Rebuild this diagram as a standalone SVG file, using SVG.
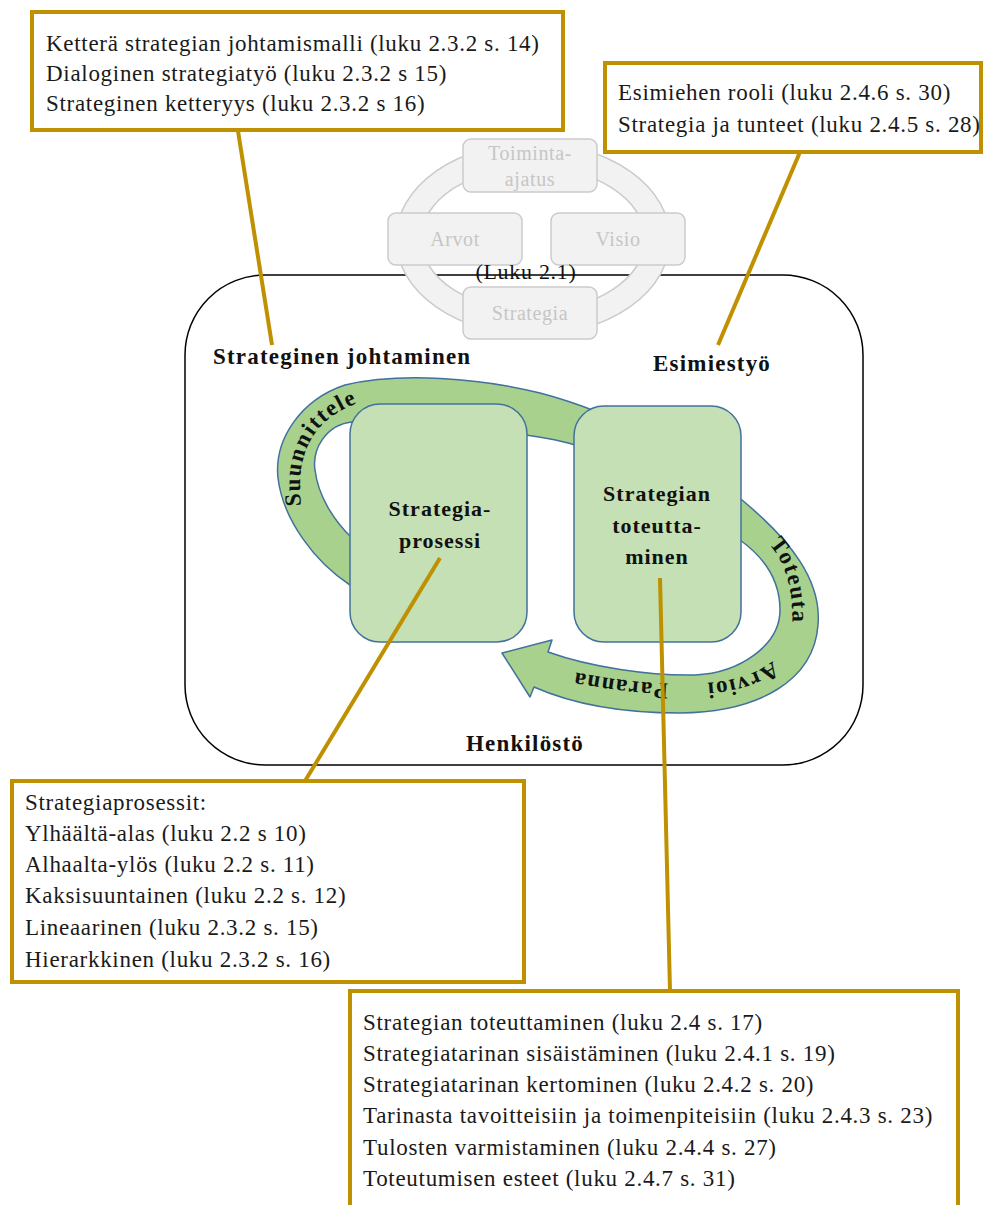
<svg xmlns="http://www.w3.org/2000/svg" width="985" height="1205" viewBox="0 0 985 1205">
<style>
.t{font-family:"Liberation Serif",serif;font-size:23px;letter-spacing:0.7px;fill:#1a1a1a}
.b{font-family:"Liberation Serif",serif;font-size:23px;font-weight:bold;letter-spacing:1.2px;fill:#111}
.bx{font-family:"Liberation Serif",serif;font-size:22px;font-weight:bold;letter-spacing:1px;fill:#111;text-anchor:middle}
.g{font-family:"Liberation Serif",serif;font-size:20px;letter-spacing:0.6px;fill:#c6c6c6;text-anchor:middle}
.arc{font-family:"Liberation Serif",serif;font-size:23px;font-weight:bold;letter-spacing:1.5px;fill:#111}
.call{fill:#fff;stroke:#BF9000;stroke-width:4}
.lead{stroke:#BF9000;stroke-width:4;fill:none}
.gb{fill:#f2f2f2;stroke:#cbcbcb;stroke-width:1.5}
.grn{fill:#C5E0B4;stroke:#41719C;stroke-width:1.5}
</style>
<defs>
<path id="pSuun" d="M 303 518 C 294 466, 302 418, 370 399"/>
<path id="pTot" d="M 752 530 C 782 550, 795 580, 792 636"/>
<path id="pBot" d="M 795 628 C 785 660, 755 680, 705 683 C 660 686, 610 680, 555 668"/>
</defs>
<rect width="985" height="1205" fill="#fff"/>

<g id="henkilosto">
<rect x="185" y="275" width="678" height="490" rx="80" ry="80" fill="#fff" stroke="#000" stroke-width="1.5"/>
<text class="b" x="466" y="751">Henkilöstö</text>
</g>

<g id="luku21">
<path class="gb" fill-rule="evenodd" d="M 396 239 a 137 96 0 1 0 274 0 a 137 96 0 1 0 -274 0 Z M 421 239 a 112 72 0 1 0 224 0 a 112 72 0 1 0 -224 0 Z"/>
<g id="toiminta"><rect class="gb" x="463" y="139" width="134" height="53" rx="8"/><text class="g" x="530" y="160">Toiminta-</text><text class="g" x="530" y="186">ajatus</text></g>
<g id="arvot"><rect class="gb" x="388" y="213" width="134" height="52" rx="8"/><text class="g" x="455" y="246">Arvot</text></g>
<g id="visio"><rect class="gb" x="551" y="213" width="134" height="52" rx="8"/><text class="g" x="618" y="246">Visio</text></g>
<g id="strategia"><rect class="gb" x="463" y="287" width="134" height="52" rx="8"/><text class="g" x="530" y="320">Strategia</text></g>
<text x="526" y="279" text-anchor="middle" style="font-family:'Liberation Serif',serif;font-size:22px;letter-spacing:0.7px;fill:#111">(Luku 2.1)</text>
</g>

<g id="labels">
<text class="b" x="213" y="364">Strateginen johtaminen</text>
<text class="b" x="653" y="371">Esimiestyö</text>
</g>

<g id="kierto">
<path fill="#A9D18E" stroke="#41719C" stroke-width="1.5" stroke-linejoin="round" d="M 390 600 L 350 585 C 315 562, 283 520, 278 478 C 274 440, 300 400, 345 385 C 400 372, 480 378, 540 393 C 620 414, 690 455, 742 500 C 790 540, 822 580, 818 625 C 814 680, 760 712, 680 713 C 620 713, 570 703, 534 687 L 530 697 L 502 653 L 552 640 L 548 652 C 590 667, 650 676, 695 675 C 740 673, 780 645, 780 610 C 780 580, 765 558, 740 540 C 700 505, 640 465, 575 445 C 540 434, 450 425, 352 422 C 325 425, 312 450, 315 470 C 318 495, 333 520, 352 538 L 390 550 Z"/>
<text class="arc"><textPath href="#pSuun" startOffset="50%" text-anchor="middle">Suunnittele</textPath></text>
<text class="arc"><textPath href="#pTot" startOffset="54%" text-anchor="middle">Toteuta</textPath></text>
<text class="arc"><textPath href="#pBot" startOffset="76" text-anchor="middle">Arvioi</textPath></text>
<text class="arc"><textPath href="#pBot" startOffset="197" text-anchor="middle">Paranna</textPath></text>
</g>

<g id="strategiaprosessi">
<rect class="grn" x="350" y="404" width="177" height="238" rx="30"/>
<text class="bx" x="440" y="516">Strategia-</text>
<text class="bx" x="440" y="548">prosessi</text>
</g>

<g id="toteuttaminen">
<rect class="grn" x="574" y="406" width="167" height="236" rx="30"/>
<text class="bx" x="657" y="501">Strategian</text>
<text class="bx" x="657" y="533">toteutta-</text>
<text class="bx" x="657" y="564">minen</text>
</g>

<g id="connectors">
<line class="lead" x1="238" y1="131" x2="272" y2="345"/>
<line class="lead" x1="800" y1="152" x2="718" y2="345"/>
<line class="lead" x1="440" y1="558" x2="305" y2="781"/>
<line class="lead" x1="660" y1="578" x2="670" y2="991"/>
</g>

<g id="callout-johtaminen">
<rect class="call" x="32" y="12" width="531" height="118"/>
<text class="t" x="46" y="51">Ketterä strategian johtamismalli (luku 2.3.2 s. 14)</text>
<text class="t" x="46" y="81">Dialoginen strategiatyö (luku 2.3.2 s 15)</text>
<text class="t" x="46" y="111">Strateginen ketteryys (luku 2.3.2 s 16)</text>
</g>

<g id="callout-esimiestyo">
<rect class="call" x="605" y="63" width="376" height="89"/>
<text class="t" x="618" y="100">Esimiehen rooli (luku 2.4.6 s. 30)</text>
<text class="t" x="618" y="132">Strategia ja tunteet (luku 2.4.5 s. 28)</text>
</g>

<g id="callout-prosessit">
<rect class="call" x="12" y="781" width="512" height="201"/>
<text class="t" x="25" y="810">Strategiaprosessit:</text>
<text class="t" x="25" y="841">Ylhäältä-alas (luku 2.2 s 10)</text>
<text class="t" x="25" y="872">Alhaalta-ylös (luku 2.2 s. 11)</text>
<text class="t" x="25" y="903">Kaksisuuntainen (luku 2.2 s. 12)</text>
<text class="t" x="25" y="935">Lineaarinen (luku 2.3.2 s. 15)</text>
<text class="t" x="25" y="967">Hierarkkinen (luku 2.3.2 s. 16)</text>
</g>

<g id="callout-toteuttaminen">
<rect class="call" x="350" y="991" width="608" height="240"/>
<text class="t" x="363" y="1030">Strategian toteuttaminen (luku 2.4 s. 17)</text>
<text class="t" x="363" y="1061">Strategiatarinan sisäistäminen (luku 2.4.1 s. 19)</text>
<text class="t" x="363" y="1092">Strategiatarinan kertominen (luku 2.4.2 s. 20)</text>
<text class="t" x="363" y="1123">Tarinasta tavoitteisiin ja toimenpiteisiin (luku 2.4.3 s. 23)</text>
<text class="t" x="363" y="1155">Tulosten varmistaminen (luku 2.4.4 s. 27)</text>
<text class="t" x="363" y="1186">Toteutumisen esteet (luku 2.4.7 s. 31)</text>
</g>
</svg>
